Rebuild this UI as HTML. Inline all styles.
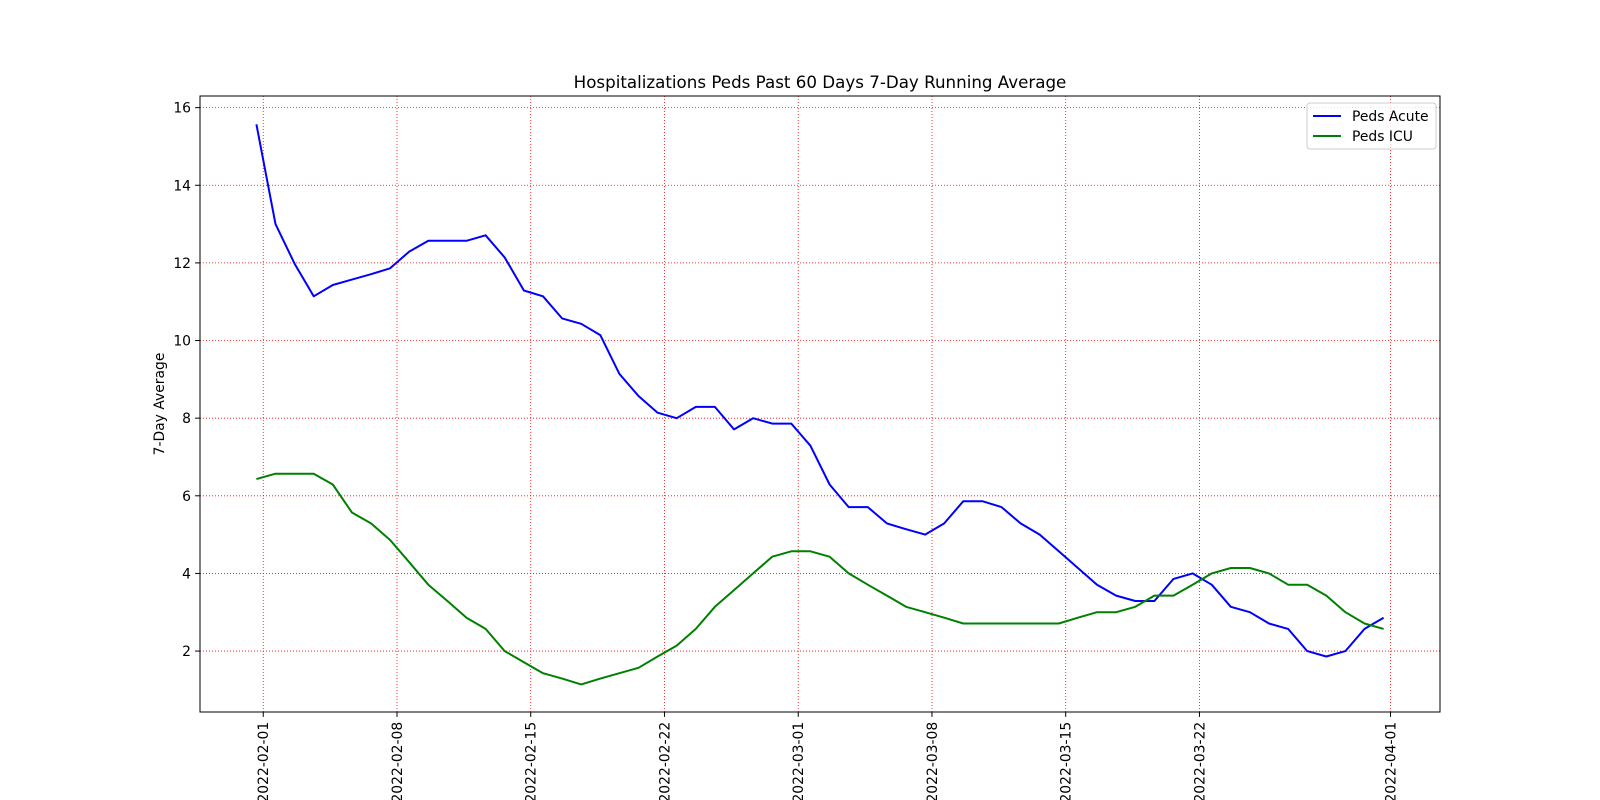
<!DOCTYPE html>
<html><head><meta charset="utf-8"><style>
html,body{margin:0;padding:0;background:#fff;}
svg{display:block;font-family:"DejaVu Sans","Liberation Sans",sans-serif;}
</style></head><body>
<svg id="chart" width="1600" height="800" xmlns="http://www.w3.org/2000/svg">
<rect width="1600" height="800" fill="#fff"/>
<g id="grid"></g>
<g id="series"></g>
<rect x="200" y="96" width="1240" height="616" fill="none" stroke="#000" stroke-width="1"/>
<g id="axes"></g>
<text x="820" y="88" text-anchor="middle" font-size="16.7">Hospitalizations Peds Past 60 Days 7-Day Running Average</text>
<text transform="translate(164,404) rotate(-90)" text-anchor="middle" font-size="13.9">7-Day Average</text>
<g>
<rect x="1307" y="103" width="129" height="46" rx="3" fill="#fff" fill-opacity="0.8" stroke="#ccc"/>
<line x1="1313" y1="116" x2="1341" y2="116" stroke="#0000ff" stroke-width="2"/>
<text x="1352" y="121" font-size="13.9">Peds Acute</text>
<line x1="1313" y1="136" x2="1341" y2="136" stroke="#008000" stroke-width="2"/>
<text x="1352" y="141" font-size="13.9">Peds ICU</text>
</g>
</svg>
<script>
const acute=[15.57,13.0,11.98,11.14,11.43,11.57,11.71,11.86,12.29,12.57,12.57,12.57,12.71,12.14,11.29,11.14,10.57,10.43,10.14,9.14,8.57,8.14,8.0,8.29,8.29,7.71,8.0,7.86,7.86,7.29,6.29,5.71,5.71,5.29,5.14,5.0,5.29,5.86,5.86,5.71,5.29,5.0,4.57,4.14,3.71,3.43,3.29,3.29,3.86,4.0,3.71,3.14,3.0,2.71,2.57,2.0,1.86,2.0,2.57,2.86];
const icu=[6.43,6.57,6.57,6.57,6.29,5.57,5.29,4.86,4.29,3.71,3.29,2.86,2.57,2.0,1.71,1.43,1.29,1.14,1.29,1.43,1.57,1.86,2.14,2.57,3.14,3.57,4.0,4.43,4.57,4.57,4.43,4.0,3.71,3.43,3.14,3.0,2.86,2.71,2.71,2.71,2.71,2.71,2.71,2.86,3.0,3.0,3.14,3.43,3.43,3.71,4.0,4.14,4.14,4.0,3.71,3.71,3.43,3.0,2.71,2.57];
const xTickLabels=["2022-02-01","2022-02-08","2022-02-15","2022-02-22","2022-03-01","2022-03-08","2022-03-15","2022-03-22","2022-04-01"];
const xTickDays=[0,7,14,21,28,35,42,49,59];
const yTicks=[2,4,6,8,10,12,14,16];
const firstDay=-0.36;
const NS="http://www.w3.org/2000/svg";
const X0=200,X1=1440,Y0=712,Y1=96;
const xMin=-3.31,xMax=61.59,yMin=0.43,yMax=16.30;
const xs=d=>X0+(d-xMin)/(xMax-xMin)*(X1-X0);
const ys=v=>Y0-(v-yMin)/(yMax-yMin)*(Y0-Y1);
function mk(t,a,p){const e=document.createElementNS(NS,t);for(const k in a)e.setAttribute(k,a[k]);p.appendChild(e);return e;}
const grid=document.getElementById('grid'),axes=document.getElementById('axes'),series=document.getElementById('series');
xTickDays.forEach((d,i)=>{const x=xs(d);
 const g=mk('line',{x1:x,x2:x,y1:Y1,y2:Y0,stroke:'#ff0000','stroke-width':0.8,'stroke-dasharray':'1,2'},grid);
 
 
 const t=mk('line',{x1:x,x2:x,y1:Y0,y2:Y0+4.9,stroke:'#000'},axes);
 
 
 const l=mk('text',{transform:`translate(${x+5},${Y0+9.8}) rotate(-90)`,'text-anchor':'end','font-size':13.9},axes);
 
 
 l.textContent=xTickLabels[i];});
yTicks.forEach(v=>{const y=ys(v);
 const g=mk('line',{x1:X0,x2:X1,y1:y,y2:y,stroke:'#ff0000','stroke-width':0.8,'stroke-dasharray':'1,2'},grid);
 
 
 const t=mk('line',{x1:X0-4.9,x2:X0,y1:y,y2:y,stroke:'#000'},axes);
 
 
 const l=mk('text',{x:X0-9,y:y+5,'text-anchor':'end','font-size':13.9},axes);
 
 
 l.textContent=v;});
function line(arr,color,name){const pts=arr.map((v,i)=>xs(firstDay+i).toFixed(1)+','+ys(v).toFixed(1)).join(' ');
 const p=mk('polyline',{points:pts,fill:'none',stroke:color,'stroke-width':2,'stroke-linejoin':'round'},series);
 
 }
line(acute,'#0000ff','line-peds-acute');
line(icu,'#008000','line-peds-icu');
</script>
</body></html>
